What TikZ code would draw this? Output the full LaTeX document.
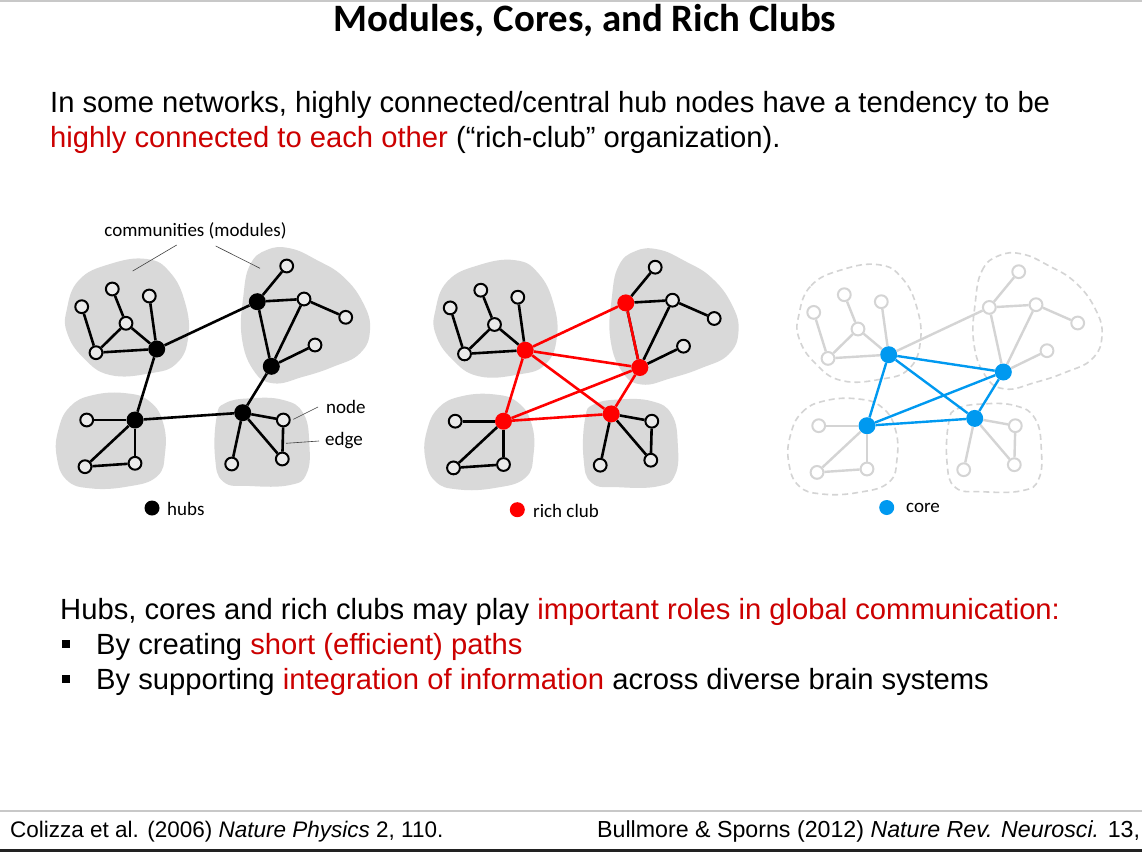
\documentclass[tikz,border=0pt]{standalone}
\usepackage{fontspec}
\setmainfont{Liberation Sans}
\newfontfamily\labelfont{Carlito}

\definecolor{blobgray}{RGB}{217,217,217}
\definecolor{nodefill}{RGB}{235,235,235}
\definecolor{clubred}{RGB}{255,0,0}
\definecolor{coreblue}{RGB}{0,153,240}
\definecolor{textred}{RGB}{204,0,0}
\definecolor{fadegray}{RGB}{212,212,212}
\definecolor{rulegray}{RGB}{200,200,200}
\definecolor{barblack}{RGB}{34,34,34}

% One network: four modules with their nodes and intra-module edges
\newcommand\modulenet{%
  \path[module] plot[smooth cycle, tension=0.75] coordinates {(66.7,310) (79,280) (110,264) (146.7,259) (170,272.3) (185,302.3) (188.3,336.7) (176.7,363.3) (150,373.3) (110,375) (83.3,357.7) (67.3,333.3)};
  \path[module] plot[smooth cycle, tension=0.75] coordinates {(243.3,296.7) (250,265) (266.7,250) (290,248.3) (316.7,260) (343.3,276.7) (363.3,303.3) (370,330) (360,353.3) (333.3,366.7) (303.3,376.7) (273.3,383.3) (253.3,370) (241.7,336.7)};
  \path[module] plot[smooth cycle, tension=0.75] coordinates {(58.3,430) (70,406.7) (93.3,395) (126.7,393.3) (150,401.7) (163.3,423.3) (165,453.3) (156.7,476.7) (126.7,486.7) (90,488.3) (66.7,480) (56.7,456.7)};
  \path[module] plot[smooth cycle, tension=0.75] coordinates {(216.7,416.7) (225,403.3) (250,398.3) (283.3,400) (303.3,413.3) (309.3,443.3) (306.7,473.3) (290,485) (250,486) (223.3,481.7) (215,456.7)};
  % top-left module
  \node[leafnode] (a1) at (81.7,306.7) {};
  \node[leafnode] (a2) at (112.3,289) {};
  \node[leafnode] (a3) at (149.3,296) {};
  \node[leafnode] (a4) at (126,323.3) {};
  \node[leafnode] (a5) at (96,352.7) {};
  \node[hubnode]  (h1) at (156.7,349) {};
  % top-right module
  \node[hubtwo]   (h2) at (257.3,301.7) {};
  \node[leafnode] (b1) at (286.7,266) {};
  \node[leafnode] (b2) at (304,299) {};
  \node[leafnode] (b3) at (345.7,317.3) {};
  \node[leafnode] (b4) at (315,345) {};
  \node[hubnode]  (h3) at (271.3,366.3) {};
  % bottom-left module
  \node[hubnode]  (h4) at (135,420) {};
  \node[leafnode] (c1) at (86.7,420) {};
  \node[leafnode] (c2) at (85,466.7) {};
  \node[leafnode] (c3) at (135,463.3) {};
  % bottom-right module
  \node[hubnode]  (h5) at (242.7,412.7) {};
  \node[leafnode] (d1) at (283.3,420) {};
  \node[leafnode] (d2) at (282.3,459) {};
  \node[leafnode] (d3) at (231.7,464) {};
  % intra-module edges
  \draw[wire] (a1) -- (a5);
  \draw[wire] (a2) -- (a4);
  \draw[wire] (a4) -- (a5);
  \draw[wire] (a4) -- (h1);
  \draw[wire] (a3) -- (h1);
  \draw[wire] (a5) -- (h1);
  \draw[wire] (h2) -- (b1);
  \draw[wire] (h2) -- (b2);
  \draw[wire] (b2) -- (b3);
  \draw[wire] (h2) -- (h3);
  \draw[wire] (b2) -- (h3);
  \draw[wire] (h3) -- (b4);
  \draw[wire] (c1) -- (h4);
  \draw[wire] (h4) -- (c2);
  \draw[wire] (h4) -- (c3);
  \draw[wire] (c2) -- (c3);
  \draw[wire] (h5) -- (d1);
  \draw[wire] (d1) -- (d2);
  \draw[wire] (h5) -- (d2);
  \draw[wire] (h5) -- (d3);
}

\begin{document}
\begin{tikzpicture}[x=1pt,y=-1pt,
  module/.style={fill=blobgray},
  leafnode/.style={circle, draw=black, fill=nodefill, line width=2pt, minimum size=12.8pt, inner sep=0pt},
  hubnode/.style={circle, fill=black, minimum size=17pt, inner sep=0pt},
  hubtwo/.style={hubnode},
  wire/.style={line width=2.6pt, black},
  link/.style={line width=2.6pt, black},
  leader/.style={line width=0.6pt, black!75},
  keydot/.style={circle, minimum size=15pt, inner sep=0pt},
  keytext/.style={anchor=west, inner sep=0pt, font=\labelfont\fontsize{19}{22}\selectfont},
  para/.style={anchor=base west, inner sep=0pt, font=\fontsize{29.2}{35}\selectfont},
  bulletbox/.style={fill=black, minimum size=8pt, inner sep=0pt},
]
\useasboundingbox (0,0) rectangle (1142,852);
\fill[white] (0,0) rectangle (1142,852);

% slide frame
\fill[rulegray] (0,0) rectangle (1142,2);
\node[anchor=base, inner sep=0pt, font=\labelfont\bfseries\fontsize{38.8}{44}\selectfont] (title) at (585,31) {Modules, Cores, and Rich Clubs};

\node[para] (intro1) at (50,112) {In some networks, highly connected/central hub nodes have a tendency to be};
\node[para] (intro2) at (50,147) {\textcolor{textred}{highly connected to each other} (“rich-club” organization).};

% panel 1: modules and hubs
\begin{scope}[name prefix=p1-]
  \modulenet
  \draw[link] (h1) -- (h2);
  \draw[link] (h1) -- (h4);
  \draw[link] (h4) -- (h5);
  \draw[link] (h5) -- (h3);
  \node[inner sep=0pt, font=\labelfont\fontsize{19}{22}\selectfont] (comm) at (195.5,231) {communities (modules)};
  \coordinate (cl1) at (176.7,245);
  \coordinate (cl2) at (132.7,271);
  \coordinate (cr1) at (215.7,246);
  \coordinate (cr2) at (260,268.3);
  \draw[leader] (cl1) -- (cl2);
  \draw[leader] (cr1) -- (cr2);
  \node[keytext] (nodelbl) at (326,407) {node};
  \node[keytext] (edgelbl) at (325,441) {edge};
  \coordinate (nl) at (293.3,419.3);
  \coordinate (el) at (286,443.3);
  \draw[leader] (nodelbl.west) ++(-8,0) -- (nl);
  \draw[leader] (edgelbl.west) ++(-6,0) -- (el);
  \node[keydot, fill=black] (hubkey) at (152,508) {};
  \node[keytext] (hubtxt) at (167,509) {hubs};
\end{scope}

% panel 2: rich club
\begin{scope}[shift={(368.5,1.2)}, name prefix=p2-, link/.style={line width=2.6pt, clubred}, hubnode/.style={circle, fill=clubred, minimum size=17pt, inner sep=0pt}]
  \modulenet
  \draw[link] (h1) -- (h2);
  \draw[link] (h1) -- (h3);
  \draw[link] (h1) -- (h4);
  \draw[link] (h1) -- (h5);
  \draw[link] (h2) -- (h3);
  \draw[link] (h3) -- (h4);
  \draw[link] (h3) -- (h5);
  \draw[link] (h4) -- (h5);
  \node[keydot, fill=clubred] (clubkey) at (148.8,508.5) {};
  \node[keytext] (clubtxt) at (164.5,509.5) {rich club};
\end{scope}

% panel 3: core
\begin{scope}[shift={(732,5.7)}, name prefix=p3-,
  module/.style={draw=fadegray, line width=1.6pt, dash pattern=on 6pt off 4pt},
  leafnode/.style={circle, draw=fadegray, fill=white, line width=2pt, minimum size=12.8pt, inner sep=0pt},
  hubnode/.style={circle, fill=coreblue, minimum size=17pt, inner sep=0pt},
  hubtwo/.style={leafnode},
  wire/.style={line width=2.4pt, fadegray},
  link/.style={line width=2.4pt, coreblue}]
  \modulenet
  \draw[wire] (h1) -- (h2);
  \draw[link] (h1) -- (h3);
  \draw[link] (h1) -- (h4);
  \draw[link] (h1) -- (h5);
  \draw[link] (h3) -- (h4);
  \draw[link] (h3) -- (h5);
  \draw[link] (h4) -- (h5);
  \node[keydot, fill=coreblue] (corekey) at (154.7,501.8) {};
  \node[keytext] (coretxt) at (174,502.5) {core};
\end{scope}

% closing remarks
\node[para] (rem0) at (60,619) {Hubs, cores and rich clubs may play \textcolor{textred}{important roles in global communication:}};
\node[bulletbox] (bul1) at (66,644) {};
\node[para] (rem1) at (96,654) {By creating \textcolor{textred}{short (efficient) paths}};
\node[bulletbox] (bul2) at (66,679) {};
\node[para] (rem2) at (96,689) {By supporting \textcolor{textred}{integration of information} across diverse brain systems};

% footer
\fill[rulegray] (0,810) rectangle (1142,811.5);
\node[anchor=base west, inner sep=0pt, font=\fontsize{22.5}{27}\selectfont] (ref1) at (10,837.3) {Colizza et al. (2006) \textit{Nature Physics} 2, 110.};
\node[anchor=base west, inner sep=0pt, font=\fontsize{23.2}{27}\selectfont] (ref2) at (597,837.3) {Bullmore \& Sporns (2012) \textit{Nature Rev. Neurosci.} 13,};
\fill[barblack] (0,849) rectangle (1142,852);
\end{tikzpicture}
\end{document}
